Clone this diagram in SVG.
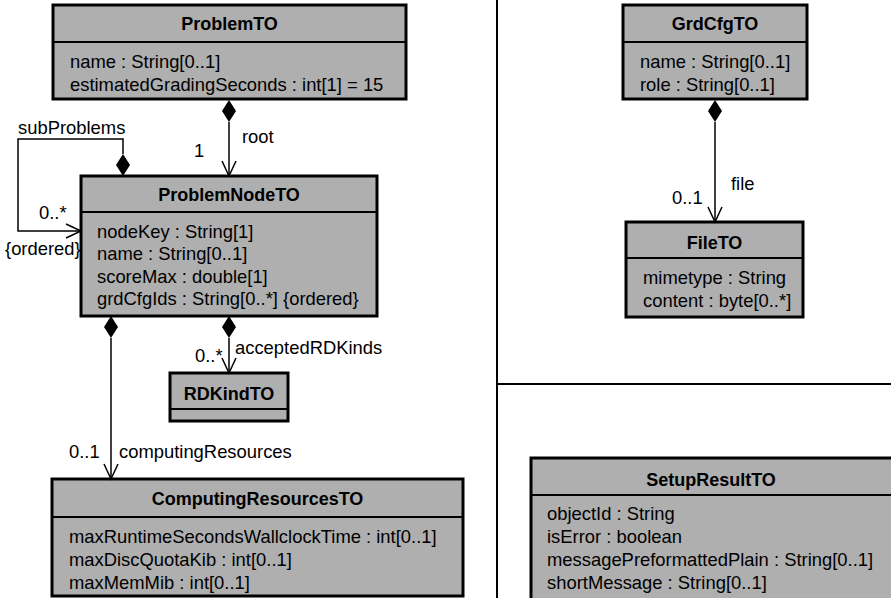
<svg xmlns="http://www.w3.org/2000/svg" width="891" height="598" viewBox="0 0 891 598">
  <style>
    .box { fill: #afafaf; stroke: #000; stroke-width: 3; }
    .div { stroke: #000; stroke-width: 2; }
    .title { font-family: "Liberation Sans", Arial, sans-serif; font-size: 18px; font-weight: bold; text-anchor: middle; fill: #000; }
    .attr { font-family: "Liberation Sans", Arial, sans-serif; font-size: 18.4px; fill: #000; }
    .lbl { font-family: "Liberation Sans", Arial, sans-serif; font-size: 18.4px; fill: #000; }
    .edge { fill: none; stroke: #000; stroke-width: 1.5; }
    .dia { fill: #000; stroke: none; }
    .sep { stroke: #000; stroke-width: 2; }
  </style>

  <!-- region separators -->
  <line class="sep" x1="497" y1="0" x2="497" y2="598"/>
  <line class="sep" x1="497" y1="384" x2="891" y2="384"/>

  <g id="ProblemTO">
    <rect class="box" x="53" y="5" width="353" height="94"/>
    <line class="div" x1="53" y1="42" x2="406" y2="42"/>
    <text class="title" x="229.5" y="30">ProblemTO</text>
    <text class="attr" x="70" y="68">name : String[0..1]</text>
    <text class="attr" x="70" y="91">estimatedGradingSeconds : int[1] = 15</text>
  </g>

  <g id="ProblemNodeTO">
    <rect class="box" x="81" y="176" width="296" height="140"/>
    <line class="div" x1="81" y1="212" x2="377" y2="212"/>
    <text class="title" x="229" y="201">ProblemNodeTO</text>
    <text class="attr" x="97" y="238">nodeKey : String[1]</text>
    <text class="attr" x="97" y="260">name : String[0..1]</text>
    <text class="attr" x="97" y="283">scoreMax : double[1]</text>
    <text class="attr" x="97" y="305">grdCfgIds : String[0..*] {ordered}</text>
  </g>

  <g id="RDKindTO">
    <rect class="box" x="170" y="373" width="118" height="48"/>
    <line class="div" x1="170" y1="409" x2="288" y2="409"/>
    <text class="title" x="229" y="400">RDKindTO</text>
  </g>

  <g id="ComputingResourcesTO">
    <rect class="box" x="52" y="479" width="411" height="117"/>
    <line class="div" x1="52" y1="517" x2="463" y2="517"/>
    <text class="title" x="257.5" y="505">ComputingResourcesTO</text>
    <text class="attr" x="69" y="543">maxRuntimeSecondsWallclockTime : int[0..1]</text>
    <text class="attr" x="69" y="566">maxDiscQuotaKib : int[0..1]</text>
    <text class="attr" x="69" y="589">maxMemMib : int[0..1]</text>
  </g>

  <g id="GrdCfgTO">
    <rect class="box" x="623" y="5" width="184" height="94"/>
    <line class="div" x1="623" y1="42" x2="807" y2="42"/>
    <text class="title" x="715" y="30">GrdCfgTO</text>
    <text class="attr" x="640" y="68">name : String[0..1]</text>
    <text class="attr" x="640" y="91">role : String[0..1]</text>
  </g>

  <g id="FileTO">
    <rect class="box" x="626" y="222" width="177" height="95"/>
    <line class="div" x1="626" y1="258" x2="803" y2="258"/>
    <text class="title" x="714.5" y="249">FileTO</text>
    <text class="attr" x="643" y="284">mimetype : String</text>
    <text class="attr" x="643" y="307">content : byte[0..*]</text>
  </g>

  <g id="SetupResultTO">
    <rect class="box" x="531" y="458" width="380" height="160"/>
    <line class="div" x1="531" y1="495" x2="911" y2="495"/>
    <text class="title" x="711" y="486">SetupResultTO</text>
    <text class="attr" x="547" y="520">objectId : String</text>
    <text class="attr" x="547" y="543">isError : boolean</text>
    <text class="attr" x="547" y="566">messagePreformattedPlain : String[0..1]</text>
    <text class="attr" x="547" y="589">shortMessage : String[0..1]</text>
  </g>

  <g id="connectors">
    <!-- ProblemTO -> ProblemNodeTO (root) -->
    <path class="dia" d="M229,100 L236,111 L229,122 L222,111 Z"/>
    <path class="edge" d="M229,122 V176"/>
    <path class="edge" d="M222,161 L229,176 L236,161"/>
    <text class="lbl" x="242" y="143">root</text>
    <text class="lbl" x="194" y="157">1</text>

    <!-- ProblemNodeTO -> ProblemNodeTO (subProblems) -->
    <path class="dia" d="M123,154 L130,165 L123,176 L116,165 Z"/>
    <path class="edge" d="M123,154 V139 H18 V231 H81"/>
    <path class="edge" d="M66,224 L81,231 L66,238"/>
    <text class="lbl" x="18" y="134">subProblems</text>
    <text class="lbl" x="39" y="219">0..*</text>
    <text class="lbl" x="5" y="255">{ordered}</text>

    <!-- ProblemNodeTO -> RDKindTO (acceptedRDKinds) -->
    <path class="dia" d="M229,316 L236,327 L229,338 L222,327 Z"/>
    <path class="edge" d="M229,338 V373"/>
    <path class="edge" d="M222,358 L229,373 L236,358"/>
    <text class="lbl" x="235" y="354">acceptedRDKinds</text>
    <text class="lbl" x="195" y="362">0..*</text>

    <!-- ProblemNodeTO -> ComputingResourcesTO (computingResources) -->
    <path class="dia" d="M111,316 L118,327 L111,338 L104,327 Z"/>
    <path class="edge" d="M111,338 V479"/>
    <path class="edge" d="M104,464 L111,479 L118,464"/>
    <text class="lbl" x="119" y="458">computingResources</text>
    <text class="lbl" x="69" y="458">0..1</text>

    <!-- GrdCfgTO -> FileTO (file) -->
    <path class="dia" d="M715,100 L722,111 L715,122 L708,111 Z"/>
    <path class="edge" d="M715,122 V222"/>
    <path class="edge" d="M708,207 L715,222 L722,207"/>
    <text class="lbl" x="731" y="190">file</text>
    <text class="lbl" x="672" y="204">0..1</text>
  </g>
</svg>
